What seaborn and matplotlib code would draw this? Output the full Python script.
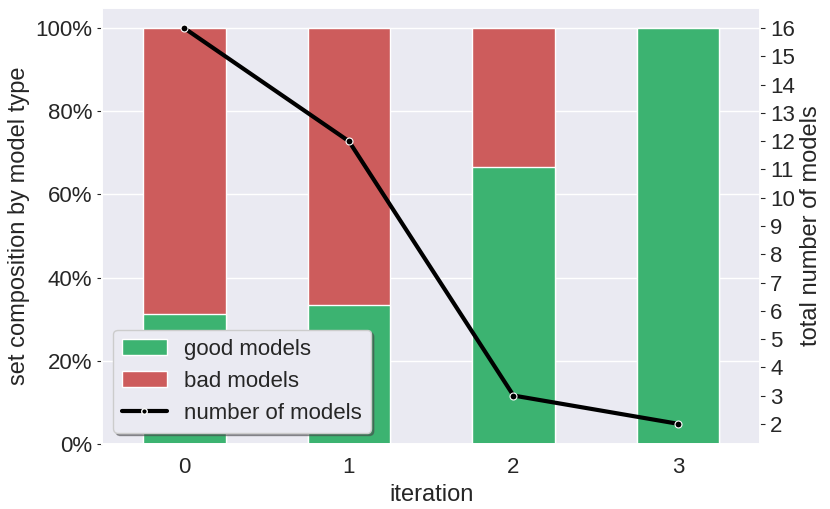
import matplotlib
matplotlib.use("Agg")
import matplotlib.pyplot as plt
import seaborn as sns
import numpy as np
import pandas as pd
from matplotlib.ticker import PercentFormatter
from matplotlib.patches import Patch
from matplotlib.lines import Line2D

iterations = [0, 1, 2, 3]
good_models = [5, 4, 2, 2]
bad_models = [11, 8, 1, 0]
total_models = [16, 12, 3, 2]

GREEN = "#3cb371"
RED = "#cd5c5c"

sns.set_theme(style="darkgrid")
plt.rcParams['font.family'] = ['Liberation Sans', 'DejaVu Sans']
plt.rcParams['xtick.bottom'] = False
plt.rcParams['ytick.color'] = '#262626'

df = pd.DataFrame({
    "iteration": iterations,
    "good": np.array(good_models) / np.array(total_models),
    "total_frac": [1.0] * len(iterations),
    "n": total_models,
})

fig = plt.figure(figsize=(8.3, 5.09), dpi=100)
ax = fig.add_axes([0.123, 0.128, 0.793, 0.856])

sns.barplot(data=df, x="iteration", y="total_frac", color=RED, saturation=1,
            width=0.5, edgecolor="white", linewidth=1, ax=ax)
sns.barplot(data=df, x="iteration", y="good", color=GREEN, saturation=1,
            width=0.5, edgecolor="white", linewidth=1, ax=ax)
ax.set_xlim(-0.5, 3.5)
ax.set_ylim(0, 1.048)
ax.yaxis.set_major_formatter(PercentFormatter(1.0, decimals=0))
ax.set_yticks([0, 0.2, 0.4, 0.6, 0.8, 1.0])
ax.set_xlabel("iteration", fontsize=17)
ax.set_ylabel("set composition by model type", fontsize=17)
ax.tick_params(axis='both', labelsize=16)
ax.tick_params(axis='y', left=True, length=3.5, width=0.8)

ax2 = ax.twinx()
sns.lineplot(data=df, x="iteration", y="n", color="black", linewidth=3,
             marker="o", markersize=5, markerfacecolor="black",
             markeredgecolor="white", markeredgewidth=0.8, ax=ax2)
ax2.grid(False)
ax2.set_ylim(1.29, 16.71)
ax2.set_yticks(range(2, 17))
ax2.set_ylabel("total number of models", fontsize=17)
ax2.tick_params(axis='y', labelsize=16, right=True, length=3.5, width=0.8)
ax2.set_xlim(-0.5, 3.5)
ax2.set_xlabel("")

handles = [
    Patch(facecolor=GREEN, edgecolor="white", label="good models"),
    Patch(facecolor=RED, edgecolor="white", label="bad models"),
    Line2D([0], [0], color="black", linewidth=3, marker="o", markersize=4,
           markerfacecolor="black", markeredgecolor="white",
           label="number of models"),
]
ax2.legend(handles=handles, loc="lower left", fontsize=16, shadow=True,
           frameon=True)

fig.savefig("out.png", dpi=100)
